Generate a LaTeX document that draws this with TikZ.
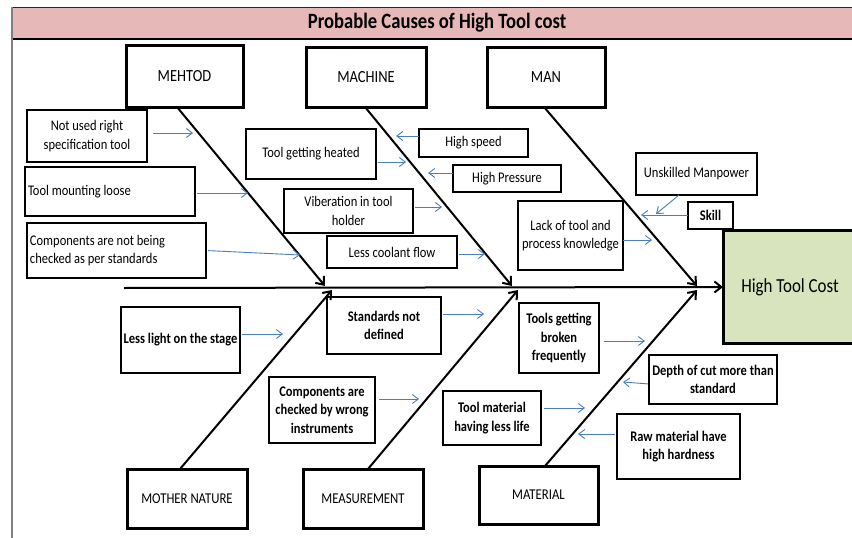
\documentclass[tikz,border=0pt]{standalone}
\usepackage{fontspec}
\setmainfont{Carlito}[FakeStretch=0.85]
\usetikzlibrary{arrows.meta,calc}
\definecolor{bandpink}{HTML}{E6B9B8}
\definecolor{effectgreen}{HTML}{D7E4BD}
\definecolor{linkblue}{HTML}{4A7EBB}
\definecolor{framegray}{HTML}{808080}
\begin{document}
\begin{tikzpicture}[x=1pt,y=-1pt,
  every node/.style={inner sep=2pt, outer sep=0pt},
  category/.style={draw, line width=3pt, font=\fontsize{17}{20}\selectfont},
  lowcategory/.style={category, font=\fontsize{15}{18}\selectfont},
  cause/.style={draw, line width=1.2pt, align=center, font=\fontsize{14.7}{18.5}\selectfont},
  boldcause/.style={cause, font=\fontsize{14.7}{18.5}\selectfont\bfseries},
  leftcause/.style={cause, align=flush left, inner xsep=3pt},
  bone/.style={line width=2pt, -{Straight Barb[length=7pt,width=11pt]}},
  link/.style={linkblue, line width=0.9pt, -{Straight Barb[length=6pt,width=9pt]}},
]
\clip (0,0) rectangle (852,538);

% title band and left frame line
\fill[bandpink] (12,7) rectangle (852,39);
\draw[line width=1pt, black!85] (12,7) -- (852,7);
\draw[line width=2pt] (12,39) -- (852,39);
\draw[framegray, line width=1.5pt] (12,7) -- (12,538);
\node[font=\fontsize{21.9}{24}\selectfont\bfseries] (title) at (437,23) {Probable Causes of High Tool cost};

% effect
\node[draw, line width=3pt, fill=effectgreen, minimum width=134pt, minimum height=113pt,
      font=\fontsize{19.9}{22}\selectfont] (effect) at (790,287) {High Tool Cost};

% categories
\node[category, minimum width=117pt, minimum height=62pt] (meth) at (184.5,76) {MEHTOD};
\node[category, minimum width=120pt, minimum height=60pt] (mach) at (366,77) {MACHINE};
\node[category, minimum width=118pt, minimum height=60pt] (man) at (546,77) {MAN};
\node[lowcategory, minimum width=120pt, minimum height=59pt] (nat) at (187,498.5) {MOTHER NATURE};
\node[lowcategory, minimum width=120pt, minimum height=59pt] (meas) at (363,498.5) {MEASUREMENT};
\node[lowcategory, minimum width=119pt, minimum height=58pt] (mat) at (538.5,495) {MATERIAL};

% spine and bones
\coordinate (spineL) at (124,288);
\draw[bone] (spineL) -- (effect.west);
\coordinate (t1) at (325,286);
\coordinate (t2) at (512,286);
\coordinate (t3) at (697,286);
\coordinate (t4) at (332,290);
\coordinate (t5) at (518,290);
\coordinate (t6) at (697,290);
\draw[bone] ([xshift=-7.5pt]meth.south) -- (t1);
\draw[bone] ([xshift=-1pt]mach.south) -- (t2);
\draw[bone] ([xshift=-2pt]man.south) -- (t3);
\draw[bone] ([xshift=-7pt]nat.north) -- (t4);
\draw[bone] ([xshift=5pt]meas.north) -- (t5);
\draw[bone] ([xshift=6.5pt]mat.north) -- (t6);

% causes: method
\node[cause, minimum width=120pt, minimum height=52pt] (c1) at (87,136) {Not used right\\specification tool};
\node[leftcause, text width=164pt, minimum height=49pt] (c2) at (110,191.5) {Tool mounting loose};
\node[leftcause, text width=173pt, minimum height=55pt] (c3) at (116.5,250.5) {Components are not being\\checked as per standards};
% causes: machine
\node[cause, minimum width=130pt, minimum height=50pt] (c4) at (311,154) {Tool getting heated};
\node[cause, minimum width=109pt, minimum height=28pt] (c5) at (473.5,143) {High speed};
\node[cause, minimum width=108pt, minimum height=27pt] (c6) at (507,178.5) {High Pressure};
\node[cause, minimum width=129pt, minimum height=44pt] (c7) at (348.5,211) {Viberation in tool\\holder};
\node[cause, minimum width=130pt, minimum height=32pt] (c8) at (392,252) {Less coolant flow};
% causes: man
\node[cause, minimum width=121pt, minimum height=42pt] (c9) at (696.5,174) {Unskilled Manpower};
\node[boldcause, minimum width=45pt, minimum height=27pt] (c10) at (710.5,215.5) {Skill};
\node[cause, minimum width=105pt, minimum height=69pt] (c11) at (570.5,235.5) {Lack of tool and\\process knowledge};
% causes: mother nature, measurement, material
\node[boldcause, minimum width=119pt, minimum height=66pt] (c12) at (180.5,340) {Less light on the stage};
\node[boldcause, minimum width=114pt, minimum height=57pt] (c13) at (384,325.5) {Standards not\\defined};
\node[boldcause, minimum width=106pt, minimum height=66pt] (c14) at (322,410) {Components are\\checked by wrong\\instruments};
\node[boldcause, minimum width=80pt, minimum height=70pt] (c15) at (559,338) {Tools getting\\broken\\frequently};
\node[boldcause, minimum width=128pt, minimum height=49pt] (c16) at (713,379.5) {Depth of cut more than\\standard};
\node[boldcause, minimum width=98pt, minimum height=54pt] (c17) at (492,418) {Tool material\\having less life};
\node[boldcause, minimum width=123pt, minimum height=65pt] (c18) at (678.5,446.5) {Raw material have\\high hardness};

% cause links
\coordinate (a1) at (193,133);
\coordinate (a2) at (248,193);
\coordinate (a3) at (300,255);
\coordinate (a4) at (406,162);
\coordinate (a5) at (396,136);
\coordinate (a6) at (428,173);
\coordinate (a7) at (442,207);
\coordinate (a8) at (485,254);
\coordinate (a9) at (656,214);
\coordinate (a10) at (641,215);
\coordinate (a11) at (652,240);
\coordinate (a12) at (283,334);
\coordinate (a13) at (484,314);
\coordinate (a14) at (419,399);
\coordinate (a15) at (645,341);
\coordinate (a16) at (623,382);
\coordinate (a17) at (585,408);
\coordinate (a18) at (578,434);
\draw[link, shorten <=6pt] (c1.east |- a1) -- (a1);
\draw[link, shorten <=2pt] (c2.east |- a2) -- (a2);
\draw[link, shorten <=2pt] (c3.east) -- (a3);
\draw[link, shorten <=2pt] (c4.east |- a4) -- (a4);
\draw[link] (c5.west |- a5) -- (a5);
\draw[link] (c6.west |- a6) -- (a6);
\draw[link, shorten <=2pt] (c7.east |- a7) -- (a7);
\draw[link, shorten <=2pt] (c8.east |- a8) -- (a8);
\draw[link] ([xshift=-17.5pt]c9.south) -- (a9);
\draw[link] (c10.west |- a10) -- (a10);
\draw[link] (c11.east |- a11) -- (a11);
\draw[link, shorten <=2pt] (c12.east |- a12) -- (a12);
\draw[link, shorten <=2pt] (c13.east |- a13) -- (a13);
\draw[link, shorten <=4pt] (c14.east |- a14) -- (a14);
\draw[link, shorten <=5pt] (c15.east |- a15) -- (a15);
\draw[link, shorten <=1pt] ([yshift=-4.5pt]c16.west) -- (a16);
\draw[link, shorten <=3pt] (c17.east |- a17) -- (a17);
\draw[link, shorten <=2pt] (c18.west |- a18) -- (a18);
\end{tikzpicture}
\end{document}
